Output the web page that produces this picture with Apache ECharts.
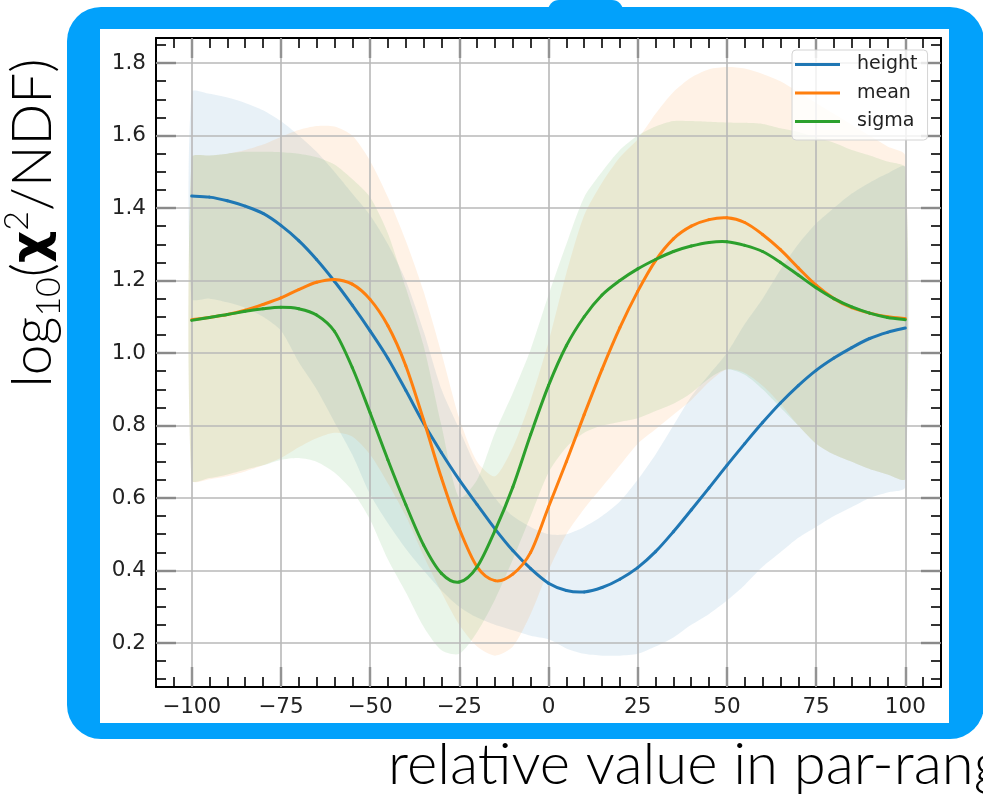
<!DOCTYPE html>
<html>
<head>
<meta charset="utf-8">
<script src="https://cdn.jsdelivr.net/npm/echarts@6/dist/echarts.min.js"></script>
<style>
html,body{margin:0;padding:0;background:#fff;}
#chart{width:983px;height:794px;}
</style>
</head>
<body>
<div id="chart"></div>
<script>
// ---- data ----
const xs = [-100,-95,-90,-85,-80,-75,-70,-65,-60,-55,-50,-45,-40,-35,-30,-25,-20,-15,-10,-5,0,5,10,15,20,25,30,35,40,45,50,55,60,65,70,75,80,85,90,95,100];

const heightCurve = [1.433,1.430,1.420,1.405,1.385,1.352,1.31,1.258,1.198,1.132,1.061,0.985,0.897,0.806,0.725,0.65,0.582,0.515,0.455,0.405,0.365,0.345,0.341,0.353,0.376,0.408,0.452,0.507,0.567,0.628,0.69,0.75,0.808,0.862,0.91,0.952,0.986,1.015,1.04,1.057,1.069];
const meanCurve   = [1.092,1.098,1.106,1.118,1.134,1.152,1.175,1.195,1.203,1.19,1.148,1.075,0.965,0.815,0.655,0.515,0.41,0.372,0.39,0.45,0.575,0.70,0.83,0.955,1.07,1.17,1.255,1.315,1.35,1.368,1.373,1.36,1.327,1.285,1.235,1.187,1.15,1.125,1.11,1.1,1.095];
const sigmaCurve  = [1.09,1.098,1.106,1.115,1.122,1.126,1.122,1.105,1.06,0.96,0.835,0.705,0.582,0.47,0.392,0.368,0.41,0.51,0.63,0.775,0.91,1.02,1.10,1.16,1.20,1.232,1.258,1.28,1.295,1.305,1.307,1.297,1.28,1.25,1.215,1.18,1.15,1.127,1.11,1.098,1.092];

const heightUpper = [1.72,1.715,1.705,1.69,1.67,1.64,1.60,1.555,1.50,1.44,1.38,1.30,1.20,1.06,0.90,0.79,0.68,0.60,0.55,0.52,0.50,0.50,0.52,0.55,0.59,0.65,0.72,0.80,0.88,0.94,1.0,1.08,1.15,1.23,1.30,1.357,1.40,1.44,1.47,1.495,1.513];
const heightLower = [1.15,1.15,1.14,1.125,1.10,1.062,0.975,0.90,0.81,0.72,0.61,0.53,0.46,0.40,0.345,0.30,0.27,0.25,0.235,0.22,0.21,0.185,0.17,0.165,0.165,0.17,0.19,0.215,0.25,0.28,0.317,0.36,0.41,0.45,0.49,0.52,0.55,0.575,0.60,0.615,0.63];
const meanUpper   = [1.54,1.545,1.55,1.56,1.575,1.596,1.615,1.626,1.625,1.60,1.53,1.43,1.31,1.17,1.0,0.82,0.70,0.66,0.74,0.87,1.03,1.22,1.38,1.47,1.54,1.59,1.66,1.72,1.76,1.783,1.789,1.785,1.77,1.75,1.72,1.69,1.66,1.63,1.60,1.57,1.545];
const meanLower   = [0.648,0.652,0.66,0.673,0.69,0.71,0.74,0.765,0.78,0.77,0.72,0.64,0.55,0.44,0.34,0.25,0.19,0.165,0.19,0.28,0.40,0.50,0.57,0.63,0.69,0.75,0.79,0.83,0.87,0.92,0.955,0.945,0.91,0.86,0.80,0.75,0.72,0.70,0.68,0.665,0.653];
const sigmaUpper  = [1.54,1.545,1.55,1.555,1.555,1.554,1.55,1.54,1.52,1.48,1.43,1.33,1.18,1.02,0.80,0.60,0.65,0.78,0.89,1.01,1.16,1.30,1.43,1.50,1.56,1.60,1.625,1.64,1.64,1.638,1.636,1.635,1.632,1.62,1.61,1.595,1.58,1.56,1.545,1.528,1.51];
const sigmaLower  = [0.648,0.655,0.665,0.678,0.69,0.705,0.71,0.70,0.67,0.62,0.54,0.43,0.34,0.245,0.18,0.17,0.23,0.32,0.43,0.55,0.67,0.74,0.78,0.80,0.81,0.82,0.84,0.86,0.89,0.93,0.955,0.94,0.90,0.85,0.80,0.75,0.72,0.70,0.68,0.665,0.653];

const seriesNames = ['height','mean','sigma'];
const xTicks = [-100,-75,-50,-25,0,25,50,75,100];
const yTicks = [0.2,0.4,0.6,0.8,1.0,1.2,1.4,1.6,1.8];
const xMinorTicks = [];
for (let v = -105; v <= 105; v += 5) xMinorTicks.push(v);
const yMinorTicks = [];
for (let v = 10; v <= 185; v += 5) yMinorTicks.push(v / 100);

// ---- styling ----
const colors = ['#1f77b4','#ff7f0e','#2ca02c'];
const X_MIN = -110, X_MAX = 110, Y_MIN = 0.0786, Y_MAX = 1.869;
const BLUE = '#02a1fb';
const tickFont = 'DejaVu Sans';
const titleFont = 'Lato';

const pairs = (arr) => xs.map((x, i) => [x, arr[i]]);
const fmtX = (v) => (v < 0 ? '\u2212' + Math.abs(v) : String(v));

function xAxisDef(pos, major) {
  return {
    type: 'value', position: pos, min: X_MIN, max: X_MAX,
    axisLine: { show: major, onZero: false, lineStyle: { color: '#000', width: 2 } },
    axisTick: { show: true, inside: true, length: major ? 20 : 10,
      customValues: major ? xTicks : xMinorTicks,
      lineStyle: { color: '#000', width: major ? 2.2 : 1.6 } },
    axisLabel: (major && pos === 'bottom') ? {
      show: true, customValues: xTicks, formatter: fmtX,
      fontFamily: tickFont, fontSize: 21.5, color: '#222', margin: 9
    } : { show: false },
    splitLine: { show: false }
  };
}
function yAxisDef(pos, major) {
  return {
    type: 'value', position: pos, min: Y_MIN, max: Y_MAX,
    axisLine: { show: major, onZero: false, lineStyle: { color: '#000', width: 2 } },
    axisTick: { show: true, inside: true, length: major ? 20 : 10,
      customValues: major ? yTicks : yMinorTicks,
      lineStyle: { color: '#000', width: major ? 2.2 : 1.6 } },
    axisLabel: (major && pos === 'left') ? {
      show: true, customValues: yTicks, formatter: (v) => v.toFixed(1),
      fontFamily: tickFont, fontSize: 21.5, color: '#222', margin: 10
    } : { show: false },
    splitLine: { show: false }
  };
}

const bands = [
  [heightLower, heightUpper],
  [meanLower, meanUpper],
  [sigmaLower, sigmaUpper]
];
const curves = [heightCurve, meanCurve, sigmaCurve];

function bandRenderer(lower, upper, color) {
  return function (params, api) {
    if (params.dataIndex !== 0) return null;
    const top = xs.map((x, i) => api.coord([x, upper[i]]));
    const bot = xs.map((x, i) => api.coord([x, lower[i]])).reverse();
    return {
      type: 'polygon',
      shape: { points: top.concat(bot), smooth: 0.25 },
      style: { fill: color, opacity: 0.1 },
      silent: true
    };
  };
}

// smooth curve through the projected data points (uniform Catmull-Rom -> cubic Bezier)
function curveRenderer(values, color) {
  return function (params, api) {
    if (params.dataIndex !== 0) return null;
    const p = xs.map((x, i) => api.coord([x, values[i]]));
    const n = p.length;
    const children = [];
    for (let i = 0; i < n - 1; i++) {
      const p0 = p[Math.max(i - 1, 0)], p1 = p[i], p2 = p[i + 1], p3 = p[Math.min(i + 2, n - 1)];
      children.push({
        type: 'bezierCurve', silent: true,
        shape: {
          x1: p1[0], y1: p1[1], x2: p2[0], y2: p2[1],
          cpx1: p1[0] + (p2[0] - p0[0]) / 6, cpy1: p1[1] + (p2[1] - p0[1]) / 6,
          cpx2: p2[0] - (p3[0] - p1[0]) / 6, cpy2: p2[1] - (p3[1] - p1[1]) / 6
        },
        style: { stroke: color, lineWidth: 3, fill: 'none', lineCap: 'round' }
      });
    }
    return { type: 'group', children: children };
  };
}

const series = [];
bands.forEach((b, k) => {
  series.push({
    name: seriesNames[k] + '_band', type: 'custom',
    data: xs.map((x, i) => [x, b[0][i], b[1][i]]),
    encode: { x: 0, y: [1, 2] },
    renderItem: bandRenderer(b[0], b[1], colors[k]),
    clip: true, silent: true, z: 1
  });
});
// helper series carrying the grid lines (invisible itself)
series.push({
  name: 'grid', type: 'line', data: pairs(heightCurve), symbol: 'none', silent: true,
  lineStyle: { opacity: 0 }, z: 2,
  markLine: {
    silent: true, z: 3, symbol: ['none', 'none'], animation: false,
    label: { show: false },
    lineStyle: { color: '#b8b8b8', width: 1.6, type: 'solid' },
    emphasis: { disabled: true },
    data: xTicks.map(v => ({ xAxis: v })).concat(yTicks.map(v => ({ yAxis: v })))
  }
});
curves.forEach((c, k) => {
  series.push({
    name: seriesNames[k], type: 'custom',
    data: pairs(c), encode: { x: 0, y: 1 },
    itemStyle: { color: colors[k] },
    renderItem: curveRenderer(c, colors[k]),
    clip: true, silent: true, z: 10
  });
});

const chart = echarts.init(document.getElementById('chart'), null, { renderer: 'canvas' });
chart.setOption({
  backgroundColor: '#ffffff',
  animation: false,
  grid: { left: 156, top: 38, right: 42, bottom: 107, containLabel: false },
  xAxis: [xAxisDef('bottom', true), xAxisDef('bottom', false), xAxisDef('top', true), xAxisDef('top', false)],
  yAxis: [yAxisDef('left', true), yAxisDef('left', false), yAxisDef('right', true), yAxisDef('right', false)],
  legend: {
    data: seriesNames.map((nm, k) => ({ name: nm, icon: 'rect', itemStyle: { color: colors[k] } })),
    orient: 'vertical', left: 792, top: 50,
    itemWidth: 45, itemHeight: 3, itemGap: 9.5,
    padding: [5, 10, 9, 3],
    backgroundColor: 'rgba(255,255,255,0.8)', borderColor: '#d4d4d4', borderWidth: 1, borderRadius: 4,
    formatter: (name) => '{t|' + name + '}',
    textStyle: { rich: { t: { fontFamily: tickFont, fontSize: 19, color: '#222', padding: [0, 0, 0, 12] } } },
    selectedMode: false
  },
  graphic: [
    { type: 'rect', z: -100, shape: { x: 548, y: 0, width: 75, height: 24, r: [11, 11, 0, 0] }, style: { fill: BLUE }, silent: true },
    { type: 'rect', z: -100, shape: { x: 67, y: 7, width: 917, height: 732, r: 34 }, style: { fill: BLUE }, silent: true },
    { type: 'rect', z: -99, shape: { x: 100, y: 29, width: 849, height: 694 }, style: { fill: '#ffffff' }, silent: true },
    {
      type: 'text', x: 33, y: 223, rotation: Math.PI / 2, silent: true,
      style: {
        text: '{a|log}{s|10}{a|(}{b|\u03c7}{p|2}{a|/NDF)}',
        align: 'center', verticalAlign: 'middle', fill: '#000',
        rich: {
          a: { fontFamily: titleFont, fontWeight: 300, fontSize: 55, lineHeight: 66, fill: '#000' },
          s: { fontFamily: titleFont, fontWeight: 300, fontSize: 34, lineHeight: 36, verticalAlign: 'bottom', fill: '#000' },
          b: { fontFamily: 'DejaVu Sans', fontWeight: 'bold', fontSize: 50, lineHeight: 66, fill: '#000' },
          p: { fontFamily: titleFont, fontWeight: 300, fontSize: 34, lineHeight: 30, verticalAlign: 'top', fill: '#000' }
        }
      }
    },
    {
      type: 'text', x: 388, y: 765, silent: true,
      style: {
        text: 'relative value in par-range', fill: '#000',
        font: '300 58px Lato', align: 'left', verticalAlign: 'middle'
      }
    }
  ],
  series: series
});
</script>
</body>
</html>
